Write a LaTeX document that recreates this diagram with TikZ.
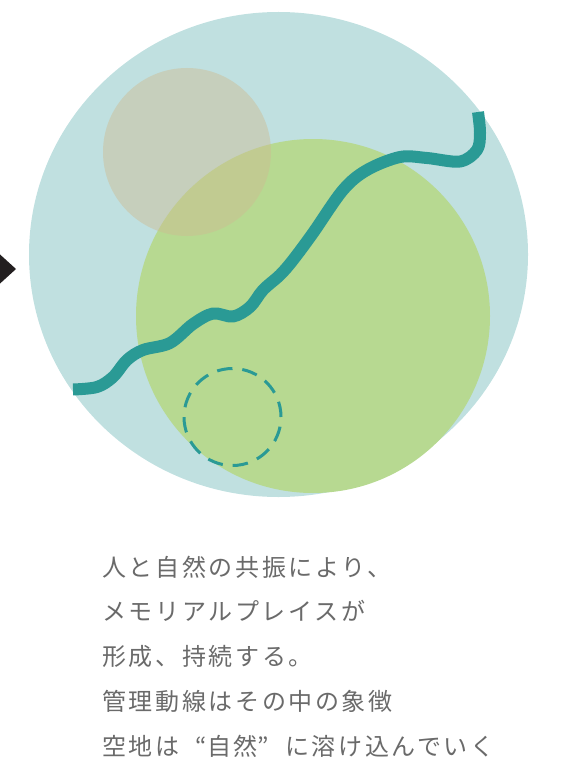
\documentclass[tikz,border=0pt]{standalone}
\usepackage{fontspec}
\newfontfamily\jpfont[LetterSpace=11]{Noto Sans CJK JP}
\definecolor{bigbg}{HTML}{C0E0E0}
\definecolor{greenc}{HTML}{B7D991}
\definecolor{beigec}{HTML}{CEBB91}
\definecolor{tealc}{HTML}{2A9A95}
\definecolor{arrowc}{HTML}{231F20}
\definecolor{txtc}{HTML}{6A6A6A}
\newcommand{\oq}{\makebox[1.15em][r]{“}}
\newcommand{\cq}{\makebox[1.15em][l]{”}}
\tikzset{
  bigcircle/.style={fill=bigbg, draw=none},
  greencircle/.style={fill=greenc, draw=none},
  beigecircle/.style={fill=beigec, fill opacity=0.45, draw=none},
  dashcircle/.style={draw=tealc, line width=3pt, dash pattern=on 15.5pt off 9.9pt},
  pathline/.style={draw=tealc, line width=12pt, line cap=butt, line join=round},
  txt/.style={anchor=base west, inner sep=0pt, font=\jpfont\fontsize{24pt}{28pt}\selectfont, text=txtc},
}
\begin{document}
\begin{tikzpicture}[x=1pt,y=-1pt]
\useasboundingbox (0,0) rectangle (573,765);
% circles
\fill[bigcircle] (278.5,254.5) ellipse [x radius=249.5pt, y radius=242.5pt];
\fill[greencircle] (313,316) circle [radius=177pt];
\fill[beigecircle] (187,152) circle [radius=84pt];
\draw[dashcircle] (232.5,417) circle [radius=48.5pt];
% arrow head at left
\fill[arrowc] (-6,249) -- (16,269) -- (-6,289) -- cycle;
% path
\draw[pathline] plot[smooth, tension=0.55] coordinates {
 (73,389.5) (97,387) (113,377) (127,360) (143,350) (170,343) (193,324)
 (213,313.5) (233,316.5) (250,307) (263,290) (280,275) (293,260) (313,233)
 (343,190) (367,170) (400,157) (427,158) (460,161.5) (477,150) (480,133) (478,112)};
% text
\node[txt] (l1) at (102,576) {人と自然の共振により、};
\node[txt] (l2) at (102,620.5) {メモリアルプレイスが};
\node[txt] (l3) at (102,665) {形成、持続する。};
\node[txt] (l4) at (102,710) {管理動線はその中の象徴};
\node[txt] (l5) at (102,755) {空地は\oq 自然\cq に溶け込んでいく};
\end{tikzpicture}
\end{document}
